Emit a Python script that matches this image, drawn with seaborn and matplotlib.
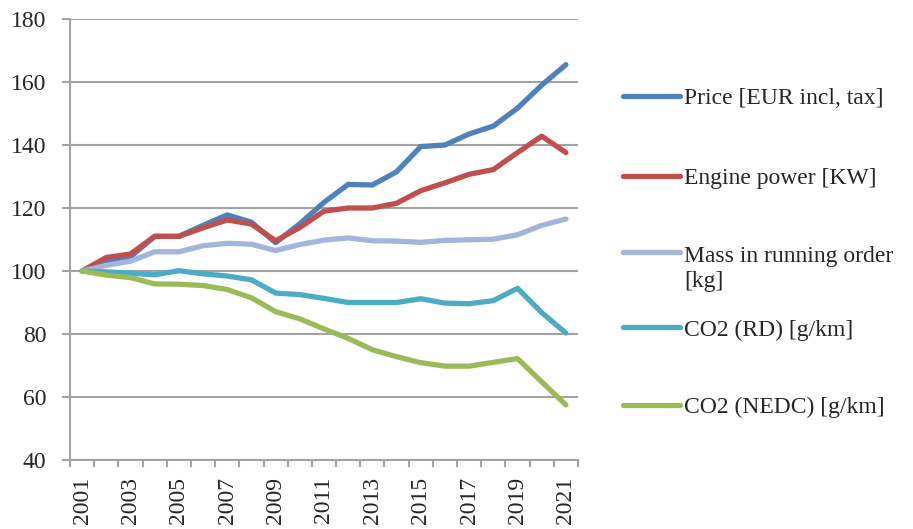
import numpy as np
import pandas as pd
import matplotlib
matplotlib.use("Agg")
import matplotlib.pyplot as plt
from matplotlib.legend_handler import HandlerLine2D
from matplotlib.lines import Line2D
from matplotlib.ticker import MultipleLocator, FixedLocator
import seaborn as sns

years = list(range(2001, 2022))
price = [100, 103, 104.5, 111, 111, 114.5, 117.8, 115.5, 109, 115, 121.8,
         127.5, 127.3, 131.5, 139.5, 140, 143.5, 146, 151.7, 159, 165.5]
engine = [100, 104.3, 105.4, 111, 111, 113.7, 116.2, 114.9, 109.6, 113.8, 119,
          120, 120, 121.5, 125.5, 128, 130.7, 132.2, 137.6, 142.8, 137.6]
mass = [100, 101.8, 103.1, 106.1, 106.1, 108, 108.8, 108.5, 106.5, 108.4, 109.8,
        110.5, 109.6, 109.5, 109.1, 109.7, 109.9, 110.1, 111.5, 114.5, 116.5]
co2_rd = [100, 99.7, 99.3, 98.8, 100.1, 99.1, 98.4, 97.2, 93, 92.5, 91.3,
          90, 90, 90, 91.2, 89.8, 89.6, 90.6, 94.5, 86.8, 80.3]
co2_nedc = [100, 98.7, 97.9, 95.9, 95.8, 95.4, 94.1, 91.5, 87.1, 84.8, 81.6,
            78.6, 75, 72.8, 70.9, 69.8, 69.8, 71, 72.2, 64.8, 57.5]

labels = ["Price [EUR incl, tax]", "Engine power [KW]",
          "Mass in running order\n[kg]", "CO2 (RD) [g/km]", "CO2 (NEDC) [g/km]"]
series = [price, engine, mass, co2_rd, co2_nedc]
colors = ["#4F81BD", "#C0504D", "#A1B6DA", "#4BACC6", "#9BBB59"]

df = pd.concat([pd.DataFrame({"year": years, "value": s, "series": l})
                for s, l in zip(series, labels)], ignore_index=True)

sns.set_style("white")
plt.rcParams["font.family"] = ["Liberation Serif", "DejaVu Serif"]

fig = plt.figure(figsize=(9.13, 5.29), dpi=100)
ax = fig.add_axes([70 / 913, 1 - 460 / 529, (578 - 70) / 913, (460 - 19) / 529])

LW = 3.8
sns.lineplot(data=df, x="year", y="value", hue="series", hue_order=labels,
             palette=dict(zip(labels, colors)), linewidth=LW, legend=False,
             sort=False, ax=ax, solid_capstyle="round", solid_joinstyle="round")

ax.set_xlim(2000.5, 2021.5)
ax.set_ylim(40, 180)
ax.set_xlabel("")
ax.set_ylabel("")

gray = "#A3A3A3"
ax.yaxis.set_major_locator(MultipleLocator(20))
ax.grid(axis="y", color=gray, linewidth=1.5)
ax.grid(axis="x", visible=False)
for side in ["top", "right"]:
    ax.spines[side].set_visible(False)
for side in ["left", "bottom"]:
    ax.spines[side].set_color(gray)
    ax.spines[side].set_linewidth(1.5)

ax.xaxis.set_major_locator(FixedLocator(years[::2]))
ax.set_xticklabels([str(y) for y in years[::2]], rotation=90)
ax.xaxis.set_minor_locator(FixedLocator([y - 0.5 for y in years] + [years[-1] + 0.5]))
ax.tick_params(axis="x", which="major", length=0, pad=12, labelsize=17)
ax.tick_params(axis="x", which="minor", length=5, width=1.5, color=gray, bottom=True)
ax.tick_params(axis="y", which="major", length=6, width=1.5, color=gray, pad=11,
               labelsize=17, left=True)


class ShiftedHandler(HandlerLine2D):
    def __init__(self, dy=0.0, **kw):
        super().__init__(**kw)
        self.dy = dy

    def create_artists(self, legend, orig_handle, xdescent, ydescent, width,
                       height, fontsize, trans):
        arts = super().create_artists(legend, orig_handle, xdescent, ydescent,
                                      width, height, fontsize, trans)
        for a in arts:
            a.set_ydata(np.asarray(a.get_ydata(), dtype=float) + self.dy)
        return arts


legend_y = [98, 178, 269, 330, 407]
shifts = [0, 0, 12, 0, 0]
for lab, col, ypx, dy in zip(labels, colors, legend_y, shifts):
    h = Line2D([0], [1], color=col, linewidth=LW, solid_capstyle="round")
    leg = fig.legend([h], [lab], loc="center left",
                     bbox_to_anchor=(623 / 913, 1 - ypx / 529),
                     frameon=False, fontsize=17, handlelength=2.4,
                     handletextpad=0.2, borderpad=0, borderaxespad=0,
                     handler_map={h: ShiftedHandler(dy=dy)})

fig.savefig("out.png", dpi=100)
